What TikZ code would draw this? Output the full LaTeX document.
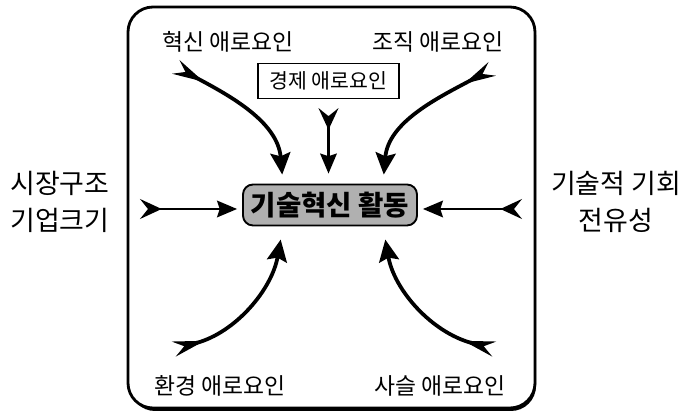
\documentclass[tikz,border=0pt]{standalone}
\usepackage{fontspec}
\setmainfont{Noto Sans CJK KR}
\usetikzlibrary{arrows.meta, positioning}

\begin{document}
\begin{tikzpicture}[
  x=0.3mm, y=0.3mm,
  lbl/.style={font=\fontsize{19.5}{20}\selectfont, inner sep=1pt},
  side/.style={font=\fontsize{23}{32}\selectfont, align=center},
  hubbox/.style={draw, line width=1.6pt, rounded corners=3mm, fill=gray!62,
                 minimum width=52.2mm, minimum height=12.3mm, inner sep=0pt,
                 font=\fontsize{23.5}{24}\selectfont\bfseries},
  econbox/.style={draw, line width=1.1pt, minimum width=42.3mm, minimum height=10.5mm,
                  inner sep=0pt, font=\fontsize{17.5}{20}\selectfont},
  flow/.style={line width=3.2pt,
               arrows={Stealth[reversed, length=9.5mm, width=4.6mm, inset=3.2mm]-Stealth[length=6.5mm, width=6mm, inset=1mm]}},
  flowthin/.style={line width=1.8pt,
               arrows={Stealth[reversed, length=6.5mm, width=6mm, inset=2.4mm]-Stealth[length=6mm, width=5mm, inset=0.8mm]}}
]
\useasboundingbox (0,0) rectangle (684,417);

% frame with shadow
\fill[rounded corners=7.5mm] (130,6) rectangle (536,407);
\filldraw[fill=white, line width=2.4pt, rounded corners=7.5mm] (128,9) rectangle (535,410);

% nodes
\node[hubbox] (hub) at (330,212) {기술혁신 활동};
\node[econbox] (econ) at (328.5,336) {경제 애로요인};
\node[lbl] (inno)  at (228,375) {혁신 애로요인};
\node[lbl] (org)   at (438,375) {조직 애로요인};
\node[lbl] (env)   at (220,31)  {환경 애로요인};
\node[lbl] (chain) at (440,31)  {사슬 애로요인};
\node[side] (market) at (60,215)  {시장구조\\기업크기};
\node[side] (opp)    at (616,215) {기술적 기회\\전유성};

% arrow tails
\coordinate (tinno)   at (176,350);
\coordinate (torg)    at (492,348);
\coordinate (tenv)    at (174,68);
\coordinate (tchain)  at (494,68);
\coordinate (tmarket) at (140,208);
\coordinate (topp)    at (522,208);

% connectors
\draw[flow, shorten >=2.7mm] (tinno) to[out=-28, in=95] ([xshift=-14.1mm]hub.north);
\draw[flow, shorten >=2.7mm] (torg) to[out=208, in=85] ([xshift=15.9mm]hub.north);
\draw[flow, shorten >=4mm] (tenv) to[out=15, in=-100] ([xshift=-14.1mm]hub.south);
\draw[flow, shorten >=4mm] (tchain) to[out=165, in=-80] ([xshift=15.9mm]hub.south);
\draw[flowthin, shorten <=2.7mm, shorten >=3mm] (econ.south) -- (econ.south |- hub.north);
\draw[flowthin, shorten >=1.5mm] (tmarket) -- (hub.west |- tmarket);
\draw[flowthin, shorten >=1.5mm] (topp) -- (hub.east |- topp);
\end{tikzpicture}
\end{document}
